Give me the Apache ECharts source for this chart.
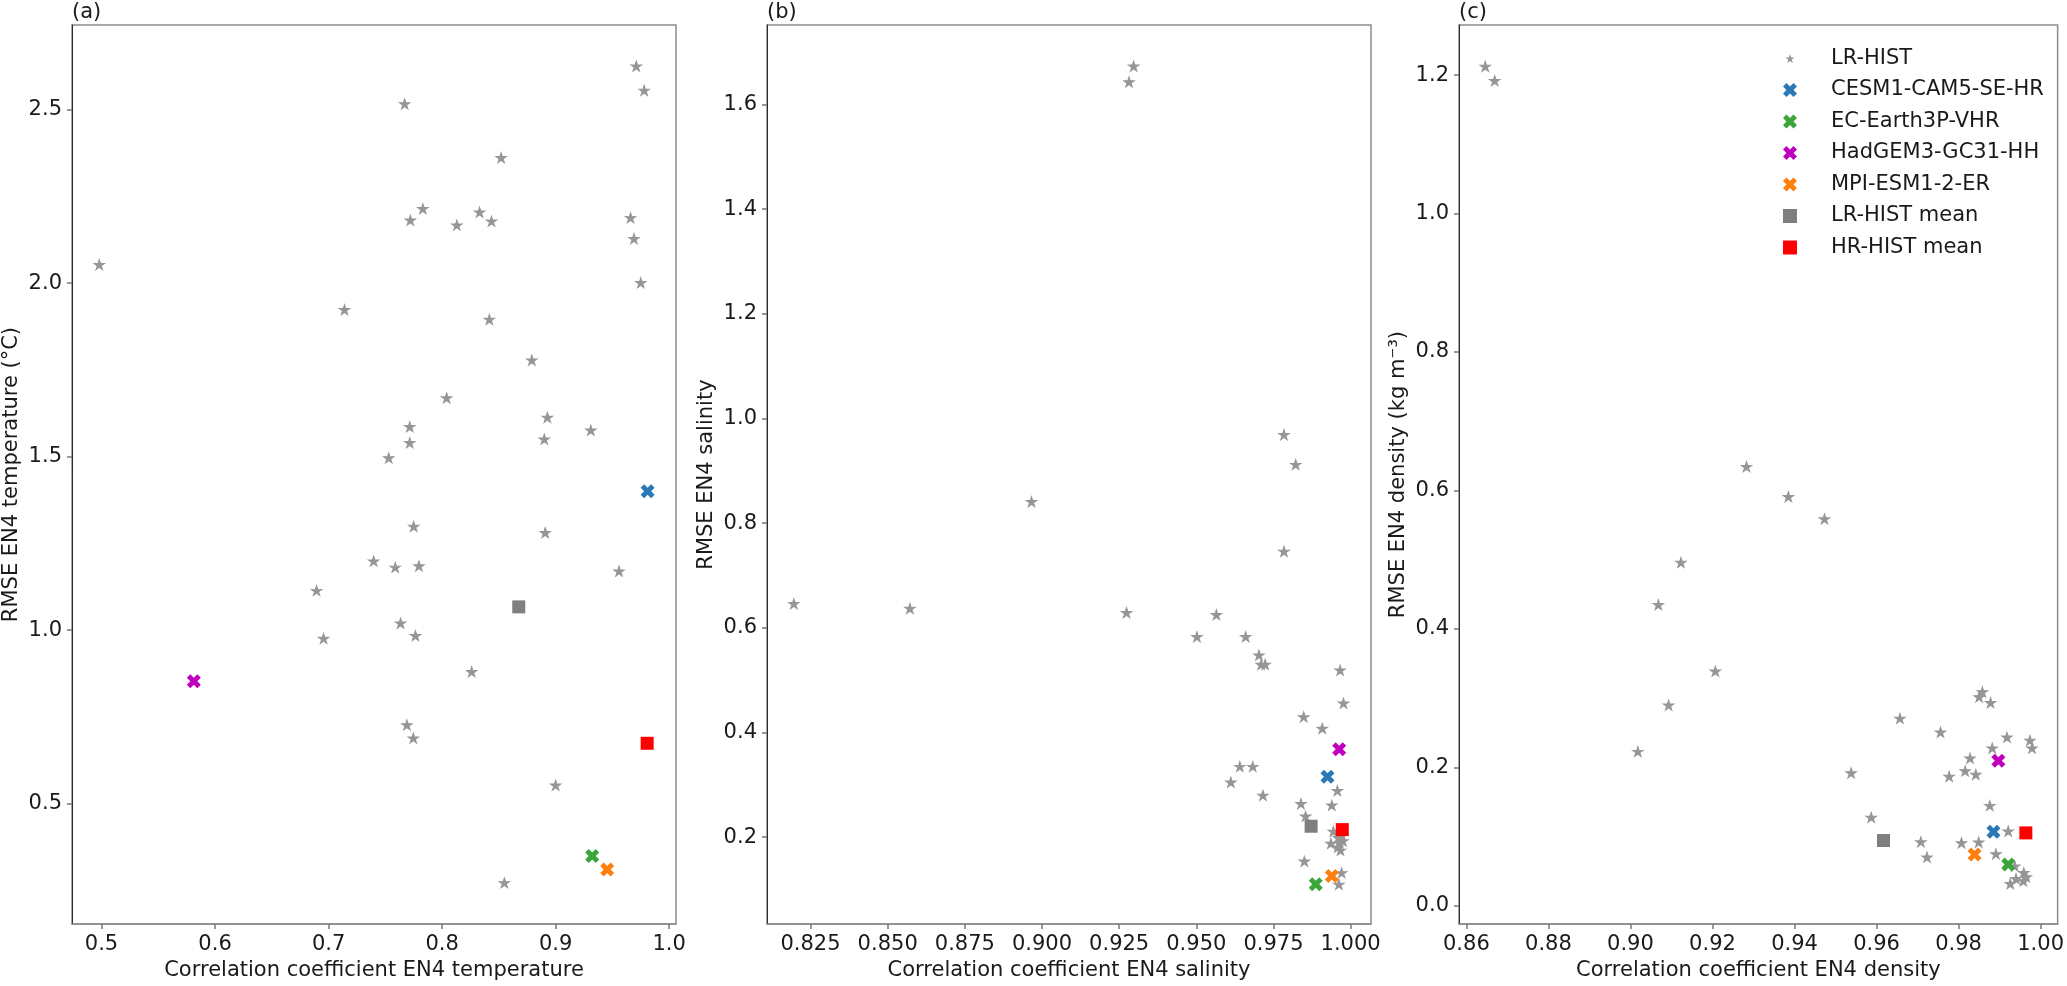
<!DOCTYPE html>
<html>
<head>
<meta charset="utf-8">
<script src="https://cdn.jsdelivr.net/npm/echarts@6/dist/echarts.min.js"></script>
<style>
    html, body {margin: 0; padding: 0; background: #fff;}
    #chart {width: 2067px; height: 986px;}
</style>
</head>
<body>
<div id="chart"></div>
<script>
// LR-HIST ensemble members, one list per panel: [correlation, rmse]
const starsTemp = [
    [0.498, 2.053], [0.767, 2.516], [0.971, 2.625], [0.978, 2.555], [0.852, 2.361], [0.783, 2.214],
    [0.772, 2.181], [0.813, 2.167], [0.833, 2.204], [0.8435, 2.178], [0.966, 2.188], [0.969, 2.128],
    [0.975, 2.001], [0.714, 1.923], [0.8416, 1.895], [0.879, 1.778], [0.804, 1.669], [0.7715, 1.586],
    [0.7715, 1.540], [0.753, 1.496], [0.8927, 1.613], [0.890, 1.550], [0.931, 1.576], [0.775, 1.299],
    [0.8908, 1.281], [0.7397, 1.199], [0.7587, 1.181], [0.7796, 1.185], [0.9558, 1.170], [0.6894, 1.114],
    [0.7634, 1.020], [0.6956, 0.976], [0.7765, 0.984], [0.826, 0.880], [0.769, 0.727], [0.7746, 0.689],
    [0.900, 0.553], [0.8548, 0.272]
];
const starsSal = [
    [0.9297, 1.673], [0.9282, 1.643], [0.9784, 0.969], [0.9822, 0.912], [0.8966, 0.841], [0.9784, 0.746],
    [0.8196, 0.646], [0.8572, 0.637], [0.9274, 0.629], [0.9565, 0.625], [0.9502, 0.583], [0.966, 0.583],
    [0.9703, 0.548], [0.971, 0.530], [0.9723, 0.530], [0.9966, 0.519], [0.9977, 0.456], [0.9848, 0.430],
    [0.9908, 0.408], [0.9641, 0.335], [0.9683, 0.335], [0.9612, 0.305], [0.9716, 0.280], [0.9957, 0.289],
    [0.9839, 0.264], [0.9939, 0.261], [0.9854, 0.240], [0.985, 0.154], [0.9936, 0.188], [0.9944, 0.211],
    [0.9965, 0.189], [0.9967, 0.175], [0.996, 0.199], [0.9971, 0.132], [0.9962, 0.110], [0.9972, 0.205],
    [0.9958, 0.181], [0.9975, 0.193]
];
const starsDens = [
    [0.8646, 1.2125], [0.8669, 1.192], [0.9283, 0.6345], [0.9385, 0.591], [0.9473, 0.559], [0.9123, 0.496],
    [0.9068, 0.435], [0.9207, 0.339], [0.9093, 0.290], [0.9018, 0.223], [0.9858, 0.309], [0.985, 0.302],
    [0.9878, 0.2935], [0.9657, 0.271], [0.9756, 0.251], [0.9918, 0.2436], [0.9974, 0.239], [0.9979, 0.228],
    [0.9882, 0.228], [0.9828, 0.2134], [0.9816, 0.195], [0.9842, 0.190], [0.9777, 0.187], [0.9538, 0.192],
    [0.9876, 0.145], [0.9587, 0.128], [0.9708, 0.0926], [0.9723, 0.0705], [0.9807, 0.0911], [0.9849, 0.0921],
    [0.9921, 0.108], [0.9891, 0.0753], [0.9937, 0.0576], [0.9959, 0.048], [0.9958, 0.036], [0.994, 0.0393],
    [0.9926, 0.0321], [0.9965, 0.042]
];

// HR models and means: one point per panel (temperature, salinity, density)
const cesm = [[0.981, 1.400], [0.9925, 0.3155], [0.9885, 0.107]];
const ecEarth = [[0.9322, 0.349], [0.9887, 0.110], [0.9921, 0.060]];
const hadgem = [[0.5813, 0.853], [0.9963, 0.368], [0.9897, 0.2096]];
const mpi = [[0.9454, 0.310], [0.9939, 0.126], [0.9839, 0.0743]];
const lrMean = [[0.8675, 1.067], [0.9872, 0.221], [0.9617, 0.0945]];
const hrMean = [[0.9806, 0.674], [0.9973, 0.2145], [0.9964, 0.1055]];

// tick labels
const xTicksTemp = [0.5, 0.6, 0.7, 0.8, 0.9, 1.0];
const yTicksTemp = [0.5, 1.0, 1.5, 2.0, 2.5];
const xTicksSal = [0.825, 0.85, 0.875, 0.9, 0.925, 0.95, 0.975, 1.0];
const yTicksSal = [0.2, 0.4, 0.6, 0.8, 1.0, 1.2, 1.4, 1.6];
const xTicksDens = [0.86, 0.88, 0.9, 0.92, 0.94, 0.96, 0.98, 1.0];
const yTicksDens = [0.0, 0.2, 0.4, 0.6, 0.8, 1.0, 1.2];

const panelLabels = ['(a)', '(b)', '(c)'];
const xNames = ['Correlation coefficient EN4 temperature', 'Correlation coefficient EN4 salinity', 'Correlation coefficient EN4 density'];
const yNames = ['RMSE EN4 temperature (°C)', 'RMSE EN4 salinity', 'RMSE EN4 density (kg m⁻³)'];

const FONT = 'DejaVu Sans';
const TXT = '#1a1a1a';

// matplotlib-like filled star and filled X markers
const starShape = (function () {
    let d = '';
    for (let i = 0; i < 10; i++) {
        const r = i % 2 === 0 ? 100 : 38.1966;
        const a = Math.PI / 2 + i * Math.PI / 5;
        const x = (r * Math.cos(a) + 100).toFixed(2);
        const y = (100 - r * Math.sin(a)).toFixed(2);
        d += (i === 0 ? 'M' : 'L') + x + ' ' + y + ' ';
    }
    return d + 'Z';
})();
const starPath = 'path://' + starShape;
// same star with an invisible padded box, so the legend icon comes out smaller
const legendStar = 'path://' + starShape + ' M-40 -49.55 L-39.99 -49.55 L-40 -49.54 Z M240 230.45 L239.99 230.45 L240 230.44 Z';
const xPath = 'path://M424 0 L566 141 L424 283 L566 424 L424 566 L283 424 L141 566 L0 424 L141 283 L0 141 L141 0 L283 141 Z';

const panels = [
    {left: 72, width: 604, xMin: 0.474, xMax: 1.006, yMin: 0.153, yMax: 2.7435, xTicks: xTicksTemp, yTicks: yTicksTemp, xd: 1, yd: 1, stars: starsTemp},
    {left: 767, width: 604, xMin: 0.8109, xMax: 1.0066, yMin: 0.034, yMax: 1.7518, xTicks: xTicksSal, yTicks: yTicksSal, xd: 3, yd: 1, stars: starsSal},
    {left: 1459, width: 605, xMin: 0.8582, xMax: 1.00415, yMin: -0.0262, yMax: 1.2723, xTicks: xTicksDens, yTicks: yTicksDens, xd: 2, yd: 1, stars: starsDens}
];

const models = [
    {name: 'CESM1-CAM5-SE-HR', pts: cesm, color: '#2a78b6', symbol: xPath, size: 14, z: 3},
    {name: 'EC-Earth3P-VHR', pts: ecEarth, color: '#3aa63a', symbol: xPath, size: 14, z: 3},
    {name: 'HadGEM3-GC31-HH', pts: hadgem, color: '#bf00bf', symbol: xPath, size: 14, z: 3},
    {name: 'MPI-ESM1-2-ER', pts: mpi, color: '#ff7f0e', symbol: xPath, size: 14, z: 3},
    {name: 'LR-HIST mean', pts: lrMean, color: '#7f7f7f', symbol: 'rect', size: 13, z: 4},
    {name: 'HR-HIST mean', pts: hrMean, color: '#ff0000', symbol: 'rect', size: 13, z: 4}
];

const grids = [], xAxes = [], yAxes = [], titles = [], series = [];
panels.forEach(function (p, i) {
    grids.push({left: p.left, top: 25, width: p.width, height: 901, show: true, borderColor: '#8c8c8c', borderWidth: 1.5, backgroundColor: 'transparent'});
    titles.push({text: panelLabels[i], left: p.left, top: 2, padding: 0, textStyle: {fontFamily: FONT, fontSize: 21, fontWeight: 'normal', color: TXT}});
    xAxes.push({
        type: 'value', gridIndex: i, min: p.xMin, max: p.xMax,
        name: xNames[i], nameLocation: 'middle', nameGap: 34,
        nameTextStyle: {fontFamily: FONT, fontSize: 21, color: TXT},
        axisLine: {show: true, onZero: false, lineStyle: {color: '#8c8c8c', width: 1.5}},
        axisTick: {show: true, length: 5, customValues: p.xTicks, lineStyle: {color: '#777', width: 1.5}},
        axisLabel: {customValues: p.xTicks, margin: 10, fontFamily: FONT, fontSize: 21, color: TXT,
            formatter: v => Number(v).toFixed(p.xd)},
        splitLine: {show: false}
    });
    yAxes.push({
        type: 'value', gridIndex: i, min: p.yMin, max: p.yMax,
        name: yNames[i], nameLocation: 'middle', nameGap: 50,
        nameTextStyle: {fontFamily: FONT, fontSize: 21, color: TXT},
        axisLine: {show: true, onZero: false, lineStyle: {color: '#2a2a2a', width: 1}},
        axisTick: {show: true, length: 5, customValues: p.yTicks, lineStyle: {color: '#777', width: 1.5}},
        axisLabel: {customValues: p.yTicks, margin: 10, fontFamily: FONT, fontSize: 21, color: TXT,
            formatter: v => Number(v).toFixed(p.yd)},
        splitLine: {show: false}
    });
    series.push({
        name: 'LR-HIST', type: 'scatter', xAxisIndex: i, yAxisIndex: i, z: 2,
        symbol: starPath, symbolSize: [10.5, 10], data: p.stars,
        itemStyle: {color: '#969696', borderColor: '#969696', borderWidth: 1, opacity: 1}
    });
    models.forEach(function (m) {
        series.push({
            name: m.name, type: 'scatter', xAxisIndex: i, yAxisIndex: i, z: m.z,
            symbol: m.symbol, symbolSize: m.size, data: [m.pts[i]],
            itemStyle: {color: m.color, opacity: 1}
        });
    });
});

const chart = echarts.init(document.getElementById('chart'), null, {renderer: 'canvas'});
chart.setOption({
    animation: false,
    backgroundColor: '#ffffff',
    title: titles,
    grid: grids,
    xAxis: xAxes,
    yAxis: yAxes,
    legend: {
        orient: 'vertical', left: 1778, top: 43,
        itemWidth: 14, itemHeight: 14, itemGap: 10.5,
        selectedMode: false,
        textStyle: {fontFamily: FONT, fontSize: 21, color: TXT, lineHeight: 21, padding: [0, 0, 0, 29]},
        data: [{name: 'LR-HIST', icon: legendStar, itemStyle: {borderWidth: 0}}].concat(models.map(m => ({name: m.name})))
    },
    series: series
});
</script>
</body>
</html>
